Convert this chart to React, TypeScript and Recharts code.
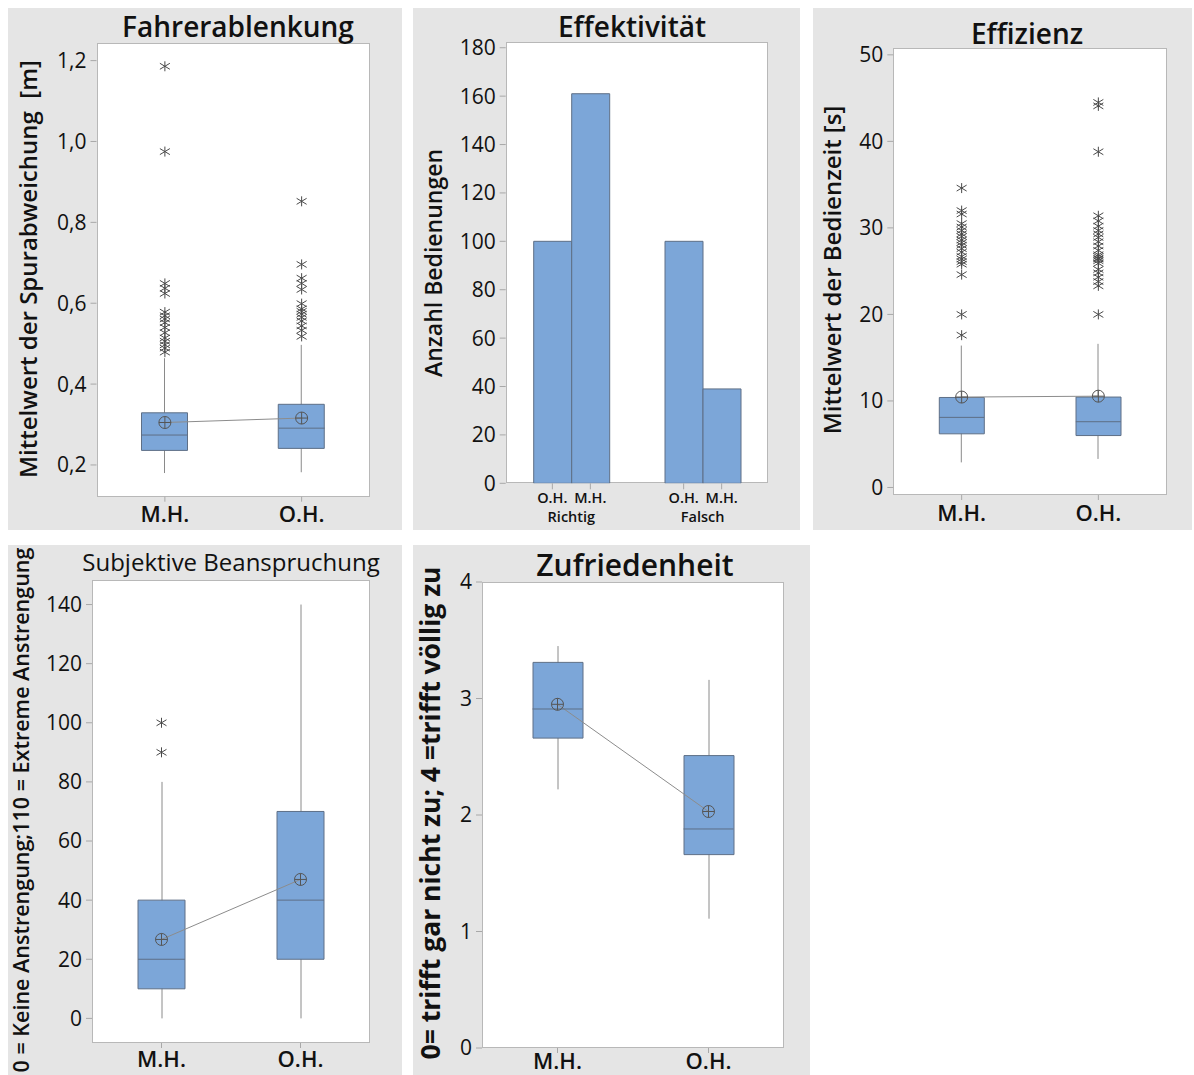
import { ComposedChart, BarChart, Bar, Line, Scatter, XAxis, YAxis } from "recharts";

const groups = ["M.H.", "O.H."];

// Fahrerablenkung – Mittelwert der Spurabweichung [m]
const spurQ1 = [0.236, 0.241];
const spurMedian = [0.274, 0.291];
const spurQ3 = [0.329, 0.35];
const spurMean = [0.305, 0.316];
const spurLow = [0.18, 0.182];
const spurHigh = [0.464, 0.497];
const spurOutMH = [1.186, 0.975, 0.649, 0.637, 0.624, 0.578, 0.569, 0.561, 0.552, 0.54, 0.527, 0.514, 0.506, 0.497, 0.489, 0.479];
const spurOutOH = [0.852, 0.696, 0.662, 0.649, 0.634, 0.599, 0.586, 0.58, 0.573, 0.565, 0.556, 0.544, 0.533, 0.518];
const spurTicks = [0.2, 0.4, 0.6, 0.8, 1.0, 1.2];

// Effektivität – Anzahl Bedienungen
const answerCats = ["Richtig", "Falsch"];
const countOH = [100, 100];
const countMH = [161, 39];
const countTicks = [0, 20, 40, 60, 80, 100, 120, 140, 160, 180];
const barLabels = ["O.H.", "M.H."];

// Effizienz – Mittelwert der Bedienzeit [s]
const zeitQ1 = [6.2, 6.0];
const zeitMedian = [8.1, 7.6];
const zeitQ3 = [10.4, 10.45];
const zeitMean = [10.45, 10.55];
const zeitLow = [2.9, 3.3];
const zeitHigh = [16.4, 16.6];
const zeitOutMH = [34.6, 32.0, 31.6, 30.5, 30.1, 29.7, 29.3, 29.0, 28.6, 28.3, 28.0, 27.6, 27.2, 26.7, 26.4, 26.1, 25.8, 24.6, 20.0, 17.6];
const zeitOutOH = [44.5, 44.1, 38.8, 31.4, 30.8, 30.2, 29.7, 29.3, 28.9, 28.4, 27.9, 27.4, 26.9, 26.7, 26.5, 26.4, 26.2, 25.9, 25.2, 24.8, 24.3, 23.8, 23.3, 20.0];
const zeitTicks = [0, 10, 20, 30, 40, 50];

// Subjektive Beanspruchung
const beanQ1 = [10, 20];
const beanMedian = [20, 40];
const beanQ3 = [40, 70];
const beanMean = [26.7, 47];
const beanLow = [0, 0];
const beanHigh = [80, 140];
const beanOutMH = [100, 90];
const beanOutOH: number[] = [];
const beanTicks = [0, 20, 40, 60, 80, 100, 120, 140];

// Zufriedenheit
const zufQ1 = [2.66, 1.66];
const zufMedian = [2.91, 1.88];
const zufQ3 = [3.31, 2.51];
const zufMean = [2.95, 2.03];
const zufLow = [2.22, 1.11];
const zufHigh = [3.45, 3.16];
const zufTicks = [0, 1, 2, 3, 4];

const FONT = "'Open Sans', 'Noto Sans', sans-serif";
const PANEL_BG = "#e5e5e5";
const BORDER = "#b8b8b8";
const BOX_FILL = "#7ca6d8";
const BOX_STROKE = "#5e6f86";
const TEXT = "#111";

function Asterisk(props: any) {
  const { cx, cy } = props;
  if (cx == null || cy == null) return null;
  return (
    <g stroke="#4a4a4a" strokeWidth={1}>
      <line x1={cx} y1={cy - 5} x2={cx} y2={cy + 5} />
      <line x1={cx - 5} y1={cy - 3} x2={cx + 5} y2={cy + 3} />
      <line x1={cx - 5} y1={cy + 3} x2={cx + 5} y2={cy - 3} />
    </g>
  );
}

function MeanDot(props: any) {
  const { cx, cy, index } = props;
  if (cx == null || cy == null) return <g key={`m${index}`} />;
  return (
    <g key={`m${index}`} stroke="#555" strokeWidth={1} fill="none">
      <circle cx={cx} cy={cy} r={6} />
      <line x1={cx - 6} y1={cy} x2={cx + 6} y2={cy} />
      <line x1={cx} y1={cy - 6} x2={cx} y2={cy + 6} />
    </g>
  );
}

type TextSpec = { text: string; size: number; weight: number; cx: number; cy: number };

function Title({ spec, rotate }: { spec: TextSpec; rotate?: boolean }) {
  return (
    <div
      style={{
        position: "absolute",
        left: spec.cx,
        top: spec.cy,
        transform: `translate(-50%, -50%)${rotate ? " rotate(-90deg)" : ""}`,
        fontFamily: FONT,
        fontSize: spec.size,
        fontWeight: spec.weight,
        lineHeight: 1,
        whiteSpace: "pre",
        color: TEXT,
      }}
    >
      {spec.text}
    </div>
  );
}

type Rect = { x: number; y: number; w: number; h: number };

function Panel({ box, plot, title, yLabel, children }: { box: Rect; plot: Rect; title: TextSpec; yLabel: TextSpec; children: any }) {
  return (
    <div style={{ position: "absolute", left: box.x, top: box.y, width: box.w, height: box.h, background: PANEL_BG }}>
      <div
        style={{
          position: "absolute",
          left: plot.x,
          top: plot.y,
          width: plot.w,
          height: plot.h,
          background: "#fff",
          border: `1px solid ${BORDER}`,
          boxSizing: "border-box",
        }}
      />
      {children}
      <Title spec={title} />
      <Title spec={yLabel} rotate />
    </div>
  );
}

interface BoxProps {
  box: Rect;
  plot: Rect;
  title: TextSpec;
  yLabel: TextSpec;
  domain: [number, number];
  ticks: number[];
  fmt?: (v: number) => string;
  q1: number[];
  median: number[];
  q3: number[];
  mean: number[];
  low: number[];
  high: number[];
  outMH: number[];
  outOH: number[];
  boxWidth: number;
  xMargin: number;
}

const yTick = { fill: TEXT, fontSize: 21, fontWeight: 500, fontFamily: FONT };

function BoxPanel(p: BoxProps) {
  const rows = groups.map((g, i) => ({
    group: g,
    box: [p.q1[i], p.q3[i]],
    whisker: [p.low[i], p.high[i]],
    median: p.median[i],
    mean: p.mean[i],
  }));
  const outliers = [
    ...p.outMH.map((v) => ({ group: groups[0], value: v })),
    ...p.outOH.map((v) => ({ group: groups[1], value: v })),
  ];
  const half = p.boxWidth / 2;
  return (
    <Panel box={p.box} plot={p.plot} title={p.title} yLabel={p.yLabel}>
      <ComposedChart
        width={p.box.w}
        height={p.box.h}
        data={rows}
        margin={{ top: p.plot.y, left: 0, right: p.box.w - p.plot.x - p.plot.w, bottom: 0 }}
      >
        <XAxis
          dataKey="group"
          type="category"
          allowDuplicatedCategory={false}
          height={p.box.h - p.plot.y - p.plot.h}
          axisLine={false}
          tickLine={{ stroke: "#a8a8a8" }}
          tickSize={5}
          tickMargin={p.xMargin}
          tick={{ fill: TEXT, fontSize: 22, fontWeight: 600, fontFamily: FONT }}
        />
        <XAxis xAxisId="w" dataKey="group" type="category" hide />
        <YAxis
          type="number"
          domain={p.domain}
          ticks={p.ticks}
          allowDataOverflow
          width={p.plot.x}
          axisLine={false}
          tickLine={{ stroke: "#a8a8a8" }}
          tickSize={6}
          tickMargin={4}
          tickFormatter={p.fmt}
          tick={yTick}
        />
        <Bar
          xAxisId="w"
          dataKey="whisker"
          barSize={2}
          isAnimationActive={false}
          shape={(s: any) => (
            <line x1={s.x + s.width / 2} x2={s.x + s.width / 2} y1={s.y} y2={s.y + s.height} stroke="#8a8a8a" strokeWidth={1} />
          )}
        />
        <Bar dataKey="box" barSize={p.boxWidth} fill={BOX_FILL} stroke={BOX_STROKE} strokeWidth={1} isAnimationActive={false} />
        <Line
          dataKey="median"
          stroke="none"
          activeDot={false}
          isAnimationActive={false}
          dot={(d: any) => (
            <line key={`md${d.index}`} x1={d.cx - half} x2={d.cx + half} y1={d.cy} y2={d.cy} stroke={BOX_STROKE} strokeWidth={1} />
          )}
        />
        <Line dataKey="mean" stroke="#8c8c8c" strokeWidth={1} activeDot={false} dot={MeanDot} isAnimationActive={false} />
        <Scatter data={outliers} dataKey="value" shape={<Asterisk />} isAnimationActive={false} />
      </ComposedChart>
    </Panel>
  );
}

function AnswerTick(props: any) {
  const { x, y, payload } = props;
  const barW = 38;
  return (
    <g>
      {barLabels.map((s, i) => {
        const bx = x + (i - 0.5) * barW;
        return (
          <g key={s}>
            <line x1={bx} x2={bx} y1={y} y2={y + 6} stroke="#a8a8a8" />
            <text x={bx} y={y + 20} textAnchor="middle" fontSize={14.5} fontWeight={600} fontFamily={FONT} fill={TEXT}>
              {s}
            </text>
          </g>
        );
      })}
      <text x={x} y={y + 39} textAnchor="middle" fontSize={14.5} fontWeight={600} fontFamily={FONT} fill={TEXT}>
        {payload.value}
      </text>
    </g>
  );
}

function EffektPanel() {
  const box = { x: 413, y: 8, w: 387, h: 522 };
  const plot = { x: 92.7, y: 33.7, w: 262.6, h: 441.6 };
  const rows = answerCats.map((c, i) => ({ cat: c, oh: countOH[i], mh: countMH[i] }));
  return (
    <Panel
      box={box}
      plot={plot}
      title={{ text: "Effektivität", size: 28, weight: 600, cx: 219, cy: 18 }}
      yLabel={{ text: "Anzahl Bedienungen", size: 23, weight: 600, cx: 20, cy: 255 }}
    >
      <BarChart
        width={box.w}
        height={box.h}
        data={rows}
        barGap={0}
        margin={{ top: plot.y, left: 0, right: box.w - plot.x - plot.w, bottom: 0 }}
      >
        <XAxis
          dataKey="cat"
          height={box.h - plot.y - plot.h}
          axisLine={false}
          tickLine={false}
          tickSize={0}
          tickMargin={0}
          tick={<AnswerTick />}
        />
        <YAxis
          type="number"
          domain={[0, 182.5]}
          ticks={countTicks}
          allowDataOverflow
          width={plot.x}
          axisLine={false}
          tickLine={{ stroke: "#a8a8a8" }}
          tickSize={6}
          tickMargin={4}
          tick={yTick}
        />
        <Bar dataKey="oh" barSize={38} fill={BOX_FILL} stroke={BOX_STROKE} strokeWidth={1} isAnimationActive={false} />
        <Bar dataKey="mh" barSize={38} fill={BOX_FILL} stroke={BOX_STROKE} strokeWidth={1} isAnimationActive={false} />
      </BarChart>
    </Panel>
  );
}

const comma = (v: number) => v.toFixed(1).replace(".", ",");

export default function App() {
  return (
    <div style={{ position: "absolute", left: 0, top: 0, width: 1194, height: 1075, background: "#fff", overflow: "hidden" }}>
      <BoxPanel
        box={{ x: 8, y: 8, w: 394, h: 522 }}
        plot={{ x: 88.5, y: 34.5, w: 273.5, h: 454.2 }}
        title={{ text: "Fahrerablenkung", size: 28, weight: 600, cx: 230, cy: 18 }}
        yLabel={{ text: "Mittelwert der Spurabweichung  [m]", size: 24, weight: 600, cx: 20, cy: 261 }}
        domain={[0.1215, 1.2448]}
        ticks={spurTicks}
        fmt={comma}
        q1={spurQ1}
        median={spurMedian}
        q3={spurQ3}
        mean={spurMean}
        low={spurLow}
        high={spurHigh}
        outMH={spurOutMH}
        outOH={spurOutOH}
        boxWidth={46}
        xMargin={5}
      />
      <EffektPanel />
      <BoxPanel
        box={{ x: 813, y: 8, w: 379, h: 522 }}
        plot={{ x: 80.3, y: 40, w: 273.4, h: 447 }}
        title={{ text: "Effizienz", size: 28, weight: 600, cx: 214, cy: 25 }}
        yLabel={{ text: "Mittelwert der Bedienzeit [s]", size: 24, weight: 600, cx: 19, cy: 262 }}
        domain={[-0.87, 50.79]}
        ticks={zeitTicks}
        q1={zeitQ1}
        median={zeitMedian}
        q3={zeitQ3}
        mean={zeitMean}
        low={zeitLow}
        high={zeitHigh}
        outMH={zeitOutMH}
        outOH={zeitOutOH}
        boxWidth={45}
        xMargin={5}
      />
      <BoxPanel
        box={{ x: 8, y: 545, w: 394, h: 530 }}
        plot={{ x: 84, y: 35, w: 278, h: 463 }}
        title={{ text: "Subjektive Beanspruchung", size: 24, weight: 500, cx: 223, cy: 17 }}
        yLabel={{ text: "0 = Keine Anstrengung;110 = Extreme Anstrengung", size: 21.5, weight: 600, cx: 13, cy: 265 }}
        domain={[-8.33, 148.3]}
        ticks={beanTicks}
        q1={beanQ1}
        median={beanMedian}
        q3={beanQ3}
        mean={beanMean}
        low={beanLow}
        high={beanHigh}
        outMH={beanOutMH}
        outOH={beanOutOH}
        boxWidth={47}
        xMargin={3}
      />
      <BoxPanel
        box={{ x: 413, y: 545, w: 397, h: 530 }}
        plot={{ x: 69, y: 37, w: 302, h: 466 }}
        title={{ text: "Zufriedenheit", size: 30, weight: 600, cx: 222, cy: 20 }}
        yLabel={{ text: "0= trifft gar nicht zu; 4 =trifft völlig zu", size: 26.5, weight: 700, cx: 17, cy: 268 }}
        domain={[0, 4]}
        ticks={zufTicks}
        q1={zufQ1}
        median={zufMedian}
        q3={zufQ3}
        mean={zufMean}
        low={zufLow}
        high={zufHigh}
        outMH={[]}
        outOH={[]}
        boxWidth={50}
        xMargin={0}
      />
    </div>
  );
}
